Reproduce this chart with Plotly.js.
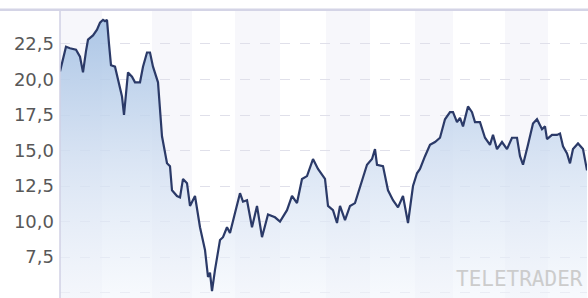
<!DOCTYPE html>
<html>
<head>
<meta charset="utf-8">
<script src="https://cdn.plot.ly/plotly-3.0.1.min.js"></script>
<style>
  html, body { margin: 0; padding: 0; background: #ffffff; }
  #chart { width: 588px; height: 298px; }
</style>
</head>
<body>
<div id="chart"></div>
<script>
// trading-day index of each sample
const days = [0,3,6,10,16,20,23,26,28,33,35,37,40,43,45,47,49,51,55,58,62,64,68,72,75,80,83,87,90,93,98,102,107,110,112,117,120,123,127,130,135,140,145,148,150,152,155,160,163,167,170,175,180,183,187,192,197,202,208,215,220,227,232,237,242,247,253,258,265,268,273,277,280,285,290,295,300,307,312,315,317,323,328,333,338,343,348,353,357,360,365,370,375,380,385,390,393,397,400,403,408,412,415,420,425,430,433,437,442,447,452,457,460,463,468,473,477,482,485,487,492,497,500,503,507,510,513,518,523,527];
// closing price
const price = [20.56,21.5,22.3,22.2,22.1,21.6,20.5,22.0,22.8,23.1,23.3,23.5,24.0,24.2,24.1,24.2,22.5,21.0,20.9,20.0,18.8,17.5,20.5,20.2,19.8,19.8,20.9,21.9,21.9,20.9,19.8,16.0,14.1,13.9,12.2,11.8,11.7,13.0,12.7,11.1,11.8,9.6,8.0,6.1,6.4,5.1,6.6,8.7,8.9,9.6,9.2,10.6,12.0,11.4,11.5,9.6,11.1,8.9,10.5,10.3,10.0,10.8,11.8,11.3,13.0,13.2,14.4,13.7,13.0,11.1,10.8,9.9,11.1,10.1,11.1,11.3,12.5,14.0,14.4,15.1,14.0,13.9,12.2,11.5,11.0,11.8,9.9,12.5,13.4,13.7,14.6,15.4,15.6,15.9,17.2,17.7,17.7,17.0,17.3,16.7,18.1,17.7,17.0,17.0,15.9,15.4,16.1,15.1,15.6,15.1,15.9,15.9,14.6,14.0,15.4,16.9,17.2,16.5,16.7,15.8,16.1,16.1,16.2,15.3,14.8,14.1,15.1,15.5,15.1,13.6];
// y axis ticks
const tickVals = [5, 7.5, 10, 12.5, 15, 17.5, 20, 22.5];
const tickText = ["", "7,5", "10,0", "12,5", "15,0", "17,5", "20,0", "22,5"];
// alternating month bands (day index start/end)
const bandStart = [0, 92, 175, 266, 355, 445];
const bandEnd = [42, 132, 220, 310, 393, 488];

const shapes = bandStart.map((s, i) => ({
  type: 'rect', xref: 'x', yref: 'paper', x0: s, x1: bandEnd[i], y0: 0, y1: 1,
  fillcolor: '#f7f7fb', line: {width: 0}, layer: 'below'
}));
// header line
shapes.push({type: 'line', xref: 'paper', yref: 'paper', x0: -0.12, x1: 1.01, y0: 1.004, y1: 1.004,
  line: {color: '#d4d4e6', width: 2.5}});
// left axis line
shapes.push({type: 'line', xref: 'paper', yref: 'paper', x0: 0, x1: 0, y0: 0, y1: 1,
  line: {color: '#d0d0e4', width: 1.5}});

const trace = {
  x: days, y: price, type: 'scatter', mode: 'lines',
  line: {color: '#2b3a68', width: 2.2},
  fill: 'tozeroy',
  fillgradient: {
    type: 'vertical', start: 4.6, stop: 24.3,
    colorscale: [[0, 'rgba(242,246,252,0.6)'], [0.5, 'rgba(208,222,241,0.8)'], [1, 'rgba(163,192,227,0.9)']]
  },
  hoverinfo: 'skip'
};

const layout = {
  width: 588, height: 298,
  margin: {l: 60, r: 1, t: 11, b: 0},
  paper_bgcolor: '#ffffff', plot_bgcolor: '#ffffff',
  showlegend: false,
  xaxis: {range: [0, 527], showgrid: false, zeroline: false, showticklabels: false, ticks: '', showline: false},
  yaxis: {
    range: [4.62, 24.82], tickmode: 'array', tickvals: tickVals, ticktext: tickText,
    showgrid: true, gridcolor: '#e0e0ea', griddash: '10px,10px', gridwidth: 1,
    zeroline: false, showline: false, ticks: '',
    tickfont: {family: 'DejaVu Sans, Verdana, sans-serif', size: 18, color: '#585858'},
    ticklabelstandoff: 5
  },
  shapes: shapes,
  annotations: [{
    text: 'TELETRADER', xref: 'paper', yref: 'paper', x: 1, y: 0, xanchor: 'right', yanchor: 'bottom',
    yshift: 5, xshift: -2, showarrow: false,
    font: {family: 'DejaVu Sans Mono, monospace', size: 21, color: '#cccccc'}
  }]
};

Plotly.newPlot('chart', [trace], layout, {displayModeBar: false, staticPlot: true});
</script>
</body>
</html>
